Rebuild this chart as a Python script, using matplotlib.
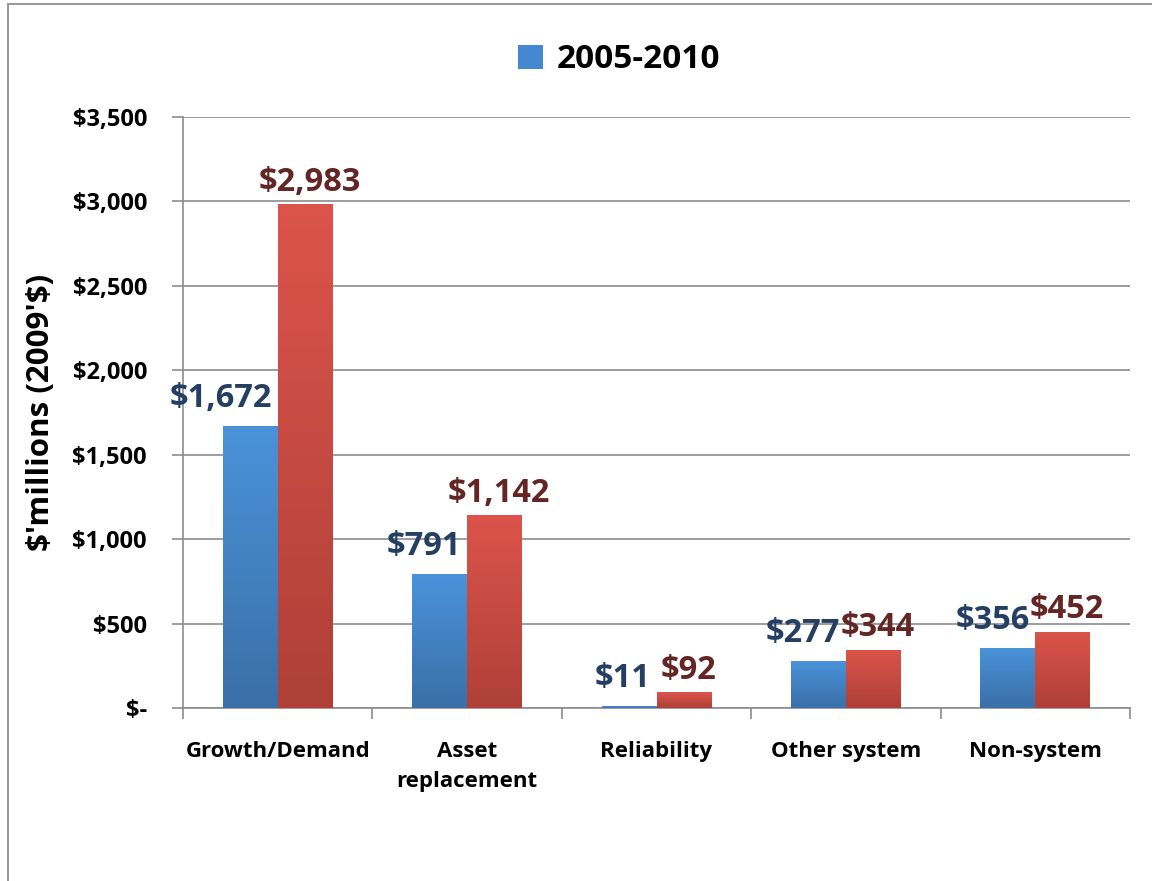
import numpy as np
import matplotlib.pyplot as plt
from matplotlib.patches import Rectangle
from matplotlib.colors import LinearSegmentedColormap

# Data
categories = ["Growth/Demand", "Asset\nreplacement", "Reliability", "Other system", "Non-system"]
period_a = [1672, 791, 11, 277, 356]       # 2005-2010 (blue)
period_b = [2983, 1142, 92, 344, 452]      # second period (red, not in legend)
a_labels = ["\\$1,672", "\\$791", "\\$11", "\\$277", "\\$356"]
b_labels = ["\\$2,983", "\\$1,142", "\\$92", "\\$344", "\\$452"]
y_ticks = [0, 500, 1000, 1500, 2000, 2500, 3000, 3500]
y_tick_labels = ["\\$-", "\\$500", "\\$1,000", "\\$1,500", "\\$2,000", "\\$2,500", "\\$3,000", "\\$3,500"]
legend_label = "2005-2010"

FONT = "Open Sans"
plt.rcParams['font.family'] = [FONT, 'DejaVu Sans']

fig = plt.figure(figsize=(11.52, 8.81), dpi=100)
ax = fig.add_axes([183 / 1152, 1 - 708 / 881, (1130 - 183) / 1152, (708 - 117) / 881])

# outer chart border (runs off the right and bottom edge like the source)
fig.patches.append(Rectangle((8 / 1152, -0.1), 1.2, 1.1 - 4.5 / 881, transform=fig.transFigure,
                             fill=False, edgecolor="#9a9a9a", linewidth=1.5))

x = np.arange(len(categories))
w = 0.29
bars_a = ax.bar(x - w / 2, period_a, width=w, color="#4489CF", zorder=3)
bars_b = ax.bar(x + w / 2, period_b, width=w, color="#CF4C43", zorder=3)

blue_cmap = LinearSegmentedColormap.from_list("b", ["#3A6FA7", "#4A93DA"])
red_cmap = LinearSegmentedColormap.from_list("r", ["#AE4038", "#DC544B"])
grad = np.linspace(0, 1, 256).reshape(-1, 1)

for bars, cmap in ((bars_a, blue_cmap), (bars_b, red_cmap)):
    for p in bars:
        x0, h = p.get_x(), p.get_height()
        im = ax.imshow(grad, cmap=cmap, origin="lower", aspect="auto",
                       extent=(x0, x0 + p.get_width(), 0, max(h, 1e-6)), zorder=3.5)
        im.set_clip_path(p)

ax.set_xlim(-0.5, len(categories) - 0.5)
ax.set_ylim(0, 3500)

# data labels
for i, (v, s) in enumerate(zip(period_a, a_labels)):
    ax.annotate(s, (x[i], v), xytext=(-4, 8), textcoords="offset points",
                ha="right", va="bottom", fontsize=23.5, fontweight="bold",
                color="#243F62", zorder=5)
for i, (v, s) in enumerate(zip(period_b, b_labels)):
    ax.annotate(s, (x[i] + w / 2, v), xytext=(3, 4), textcoords="offset points",
                ha="center", va="bottom", fontsize=23.5, fontweight="bold",
                color="#642624", zorder=5)

# axes styling
ax.set_yticks(y_ticks)
ax.set_yticklabels(y_tick_labels, fontsize=17, fontweight="bold")
ax.set_xticks(x)
ax.set_xticklabels(categories, fontsize=16, fontweight="bold", va="top", linespacing=1.55)
ax.tick_params(axis="x", length=0, pad=24)
ax.set_xticks(np.arange(len(categories) + 1) - 0.5, minor=True)
ax.tick_params(axis="x", which="minor", length=8, color="#8c8c8c", width=1.2)
ax.tick_params(axis="y", length=8, color="#8c8c8c", width=1.2, pad=18)
ax.grid(axis="y", color="#8c8c8c", linewidth=1.2, zorder=0)
ax.set_axisbelow(True)
for side in ("top", "right"):
    ax.spines[side].set_visible(False)
for side in ("left", "bottom"):
    ax.spines[side].set_color("#8c8c8c")
    ax.spines[side].set_linewidth(1.2)

ax.set_ylabel("\\$'millions (2009'\\$)", fontsize=22.5, fontweight="bold", labelpad=12)

leg = fig.legend([bars_a], [legend_label], loc="center", bbox_to_anchor=(619 / 1152, 1 - 60 / 881),
                 frameon=False, prop={"size": 24, "weight": "bold"},
                 handlelength=0.75, handleheight=0.75, handletextpad=0.4)

fig.savefig("out.png", dpi=100, facecolor="white")
